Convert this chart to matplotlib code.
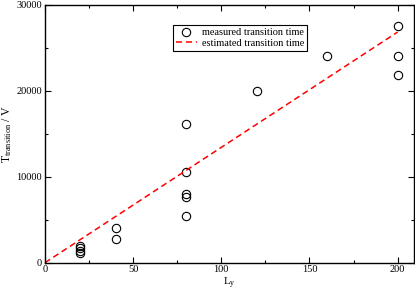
import matplotlib
matplotlib.use("Agg")
import matplotlib.pyplot as plt
from matplotlib.ticker import MultipleLocator

plt.rcParams['font.family'] = ['Liberation Serif', 'DejaVu Serif']
plt.rcParams['mathtext.fontset'] = 'custom'
plt.rcParams['mathtext.rm'] = 'Liberation Serif'
plt.rcParams['mathtext.it'] = 'Liberation Serif:italic'

# measured data
ly = [20, 20, 20, 20, 40, 40, 80, 80, 80, 80, 80, 120, 160, 200, 200, 200]
t_measured = [1100, 1400, 1700, 1900, 4000, 2700,
              16100, 10500, 8000, 7600, 5400, 20000, 24000, 27500, 24000, 21800]

# estimated line
ly_est = [0, 200]
t_est = [0, 26800]

fig = plt.figure(figsize=(4.15, 2.91), dpi=100)
ax = fig.add_axes([0.1084, 0.0973, 0.8892, 0.8872])

ax.plot(ly, t_measured, 'o', mfc='none', mec='black', ms=6, mew=0.8,
        label='measured transition time')
ax.plot(ly_est, t_est, '--', color='red', lw=1.1, dashes=(4, 2.5),
        label='estimated transition time')

ax.set_xlim(0, 209.3)
ax.set_ylim(0, 30000)
ax.xaxis.set_major_locator(MultipleLocator(50))
ax.xaxis.set_minor_locator(MultipleLocator(25))
ax.yaxis.set_major_locator(MultipleLocator(10000))
ax.yaxis.set_minor_locator(MultipleLocator(5000))
ax.tick_params(which='both', direction='in', top=True, right=True,
               labelsize=7.5, pad=2)
ax.tick_params(which='major', length=4.5, width=0.8)
ax.tick_params(which='minor', length=2.5, width=0.8)
for s in ax.spines.values():
    s.set_linewidth(1.0)

ax.set_xlabel('L$_\\mathrm{y}$', fontsize=8, labelpad=1)
ax.set_ylabel('T$_\\mathrm{transition}$ / V', fontsize=8.5, labelpad=2)

leg = ax.legend(loc='upper left', bbox_to_anchor=(0.347, 0.92), fontsize=7.4,
                fancybox=False, edgecolor='black', framealpha=1,
                borderaxespad=0, handlelength=2.0, borderpad=0.3,
                labelspacing=0.1, handletextpad=0.5)
leg.get_frame().set_linewidth(0.8)

fig.savefig('out.png', dpi=100)
